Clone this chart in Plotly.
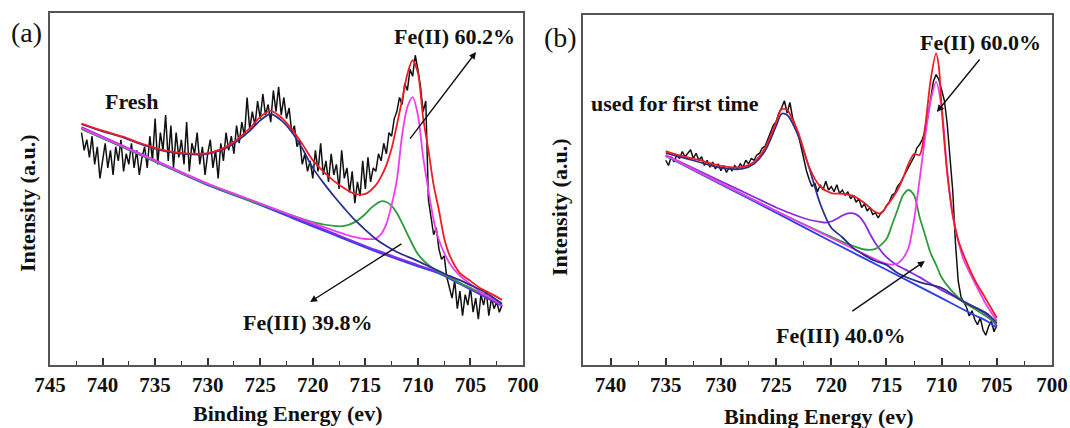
import plotly.graph_objects as go

W, H = 1070, 428

# ---------------- Panel (a): Fresh ----------------
a_raw_start = 742.0
a_raw_step = 0.25
a_raw = [
    66, 61, 64, 59, 65, 57, 62, 53, 58, 63, 56, 61, 54, 62, 58, 64,
    55, 60, 57, 63, 56, 61, 54, 59, 62, 56, 65, 58, 70, 57, 66, 61,
    71, 58, 68, 56, 66, 59, 64, 57, 69, 55, 63, 60, 66, 57, 62, 54,
    60, 64, 56, 61, 53, 63, 58, 66, 61, 65, 60, 68, 63, 69, 65, 76,
    67, 72, 68, 75, 70, 77, 71, 74, 69, 78, 72, 79, 71, 76, 70, 73,
    66, 68, 62, 64, 57, 60, 55, 58, 53, 61, 55, 63, 54, 58, 52, 60,
    54, 57, 50, 61, 53, 56, 49, 55, 46, 52, 48, 58, 50, 59, 52, 56,
    55, 60, 58, 63, 60, 66, 65, 70, 72, 76, 74, 80, 78, 84, 82, 88,
    84, 79, 72, 75, 47, 42, 37, 39, 33, 30, 31, 25, 22, 19, 24, 16,
    21, 14, 20, 17, 22, 15, 19, 13, 20, 17, 21, 14, 19, 16, 18, 15,
    17,
]

a_tot_E = [742, 740, 738, 736, 734, 732, 730, 728, 726, 725, 724, 723, 722, 721,
           720, 719, 718, 717, 716, 715, 714, 713.5, 713, 712.5, 712, 711.5, 711,
           710.5, 710, 709.5, 709, 708.5, 708, 707.5, 707, 706, 705, 704, 703, 702]
a_tot = [68.6, 66.6, 64.8, 62.6, 60.9, 60.1, 60.2, 62.4, 67.2, 70.5, 72.2, 70.3, 67.0, 62.8,
         58.2, 55.0, 52.3, 50.2, 48.6, 48.6, 51.1, 53.5, 56.8, 61.5, 68.2, 75.3, 82.7,
         86.6, 83.0, 70.2, 61.1, 51.1, 44.0, 36.0, 31.3, 26.1, 23.9, 21.7, 20.2, 18.5]

a_sat_E = [742, 740, 738, 736, 734, 732, 730, 728, 726, 725, 724, 723, 722, 721, 720,
           719, 718, 717, 716, 715, 714, 713, 712, 711, 710, 709, 708, 707, 706, 705,
           704, 703, 702]
a_sat = [68.4, 66.4, 64.6, 62.4, 60.7, 59.9, 60.0, 62.0, 66.5, 69.5, 71.3, 69.5, 66.2, 61.5, 56.0,
         51.8, 48.0, 44.5, 41.2, 38.4, 35.8, 33.8, 32.1, 30.8, 29.5, 28.1, 26.7, 25.3, 24.1, 22.7,
         21.3, 19.5, 17.3]

a_fe2_E = [742, 736, 730, 724, 720, 718, 716, 715, 714, 713.5, 713, 712.5, 712, 711.5, 711,
           710.5, 710, 709.5, 709, 708.5, 708, 707, 706, 705, 704, 703, 702]
a_fe2 = [67.3, 59.4, 51.5, 44.8, 40.3, 38.2, 36.3, 35.8, 35.9, 37.2, 40.1, 45.5, 52.6, 65.3, 73.3,
         76.1, 71.0, 59.1, 49.7, 41.2, 35.5, 29.0, 25.3, 23.0, 20.7, 19.0, 17.0]

a_fe3_E = [742, 736, 730, 724, 720, 718, 717, 716, 715, 714.5, 714, 713.5, 713, 712.5, 712,
           711.5, 711, 710, 709, 708, 707, 706, 705, 704, 703, 702]
a_fe3 = [67.1, 59.2, 51.3, 44.6, 40.6, 39.5, 39.5, 40.6, 42.9, 44.5, 45.7, 46.5, 46.3, 45.2, 43.2,
         40.3, 37.2, 31.5, 28.4, 26.4, 25.0, 23.3, 21.9, 20.5, 19.0, 17.6]

a_bg_E = [742, 738, 734, 730, 726, 722, 718, 714, 710, 708, 706, 704, 702]
a_bg = [67.1, 61.8, 56.4, 51.1, 46.6, 41.8, 37.0, 32.3, 28.0, 26.0, 23.0, 19.9, 16.8]
a_bg2 = [67.6, 62.2, 56.8, 51.5, 47.0, 42.2, 37.4, 32.7, 28.4, 26.3, 23.3, 20.1, 16.9]

# ---------------- Panel (b): used for first time ----------------
b_raw_start = 735.0
b_raw_step = 0.25
b_raw = [
    58.5, 57.0, 59.5, 58.0, 60.0, 59.0, 61.0, 59.5, 60.5, 61.5, 59.0, 60.5, 58.5, 59.5, 57.0, 58.5,
    56.5, 58.0, 56.0, 57.5, 55.5, 57.0, 55.0, 56.5, 55.5, 57.0, 56.0, 57.5, 56.5, 58.5, 57.5, 59.0,
    58.5, 60.0, 60.5, 62.0, 62.5, 64.5, 66.0, 68.5, 69.5, 72.0, 73.5, 75.5, 72.0, 75.0, 70.5, 68.0,
    66.0, 62.5, 59.0, 55.5, 53.0, 51.0, 52.0, 49.5, 51.5, 50.0, 52.5, 50.0, 51.0, 49.5, 51.5, 49.0,
    50.0, 48.5, 49.5, 47.5, 48.5, 46.5, 47.5, 45.0, 46.0, 44.0, 45.0, 43.0, 43.5, 42.0, 43.5, 44.0,
    45.5, 46.5, 48.5, 49.0, 51.0, 52.0, 53.5, 55.0, 56.5, 58.0, 59.5, 62.0, 63.0, 64.5, 67.0, 71.0,
    76.5, 81.0, 83.0, 81.5, 78.5, 75.5, 69.0, 60.0, 50.0, 35.0, 24.0, 19.5, 18.0, 16.5, 14.0, 15.5,
    13.0, 11.5, 13.5, 10.0, 8.5, 11.0, 12.5, 9.5, 11.5,
]

b_tot_E = [735, 734, 732, 730, 728, 727, 726, 725, 724.5, 724, 723.5, 723, 722.5, 722, 721,
           720, 719, 718, 717, 716, 715.5, 715, 714.5, 714, 713.5, 713, 712.5, 712, 711.5,
           711, 710.5, 710.25, 710, 709.5, 709, 708.5, 708, 707, 706, 705]
b_tot = [61.1, 60.1, 58.6, 56.9, 56.6, 58.0, 62.0, 69.4, 73.1, 72.9, 70.0, 66.5, 61.5, 56.5, 51.0,
         49.1, 48.9, 48.3, 46.3, 43.7, 43.3, 45.4, 47.5, 50.0, 53.4, 57.5, 60.3, 60.0, 68.0,
         81.4, 89.1, 85.1, 73.5, 55.1, 42.9, 35.7, 31.4, 24.3, 18.9, 13.5]

b_sat_E = [735, 734, 732, 730, 728, 727, 726, 725, 724.5, 724, 723.5, 723, 722, 721, 720,
           719, 718, 717, 716, 715, 714, 712, 710, 708, 706, 705]
b_sat = [60.6, 59.7, 58.0, 56.3, 56.1, 57.5, 61.2, 68.3, 71.8, 71.4, 69.0, 65.5, 56.3, 46.0, 39.2,
         36.5, 33.4, 31.4, 29.7, 28.6, 26.3, 23.7, 22.0, 18.0, 14.9, 12.0]

b_fe2_E = [735, 730, 725, 720, 718, 716, 715, 714.5, 714, 713.5, 713, 712.5, 712, 711.5, 711,
           710.5, 710, 709.5, 709, 708.5, 708, 707, 706, 705]
b_fe2 = [59.9, 51.9, 44.0, 36.3, 33.2, 30.2, 28.9, 28.7, 29.0, 30.5, 33.5, 41.5, 52.9, 65.0, 75.5,
         80.9, 73.5, 55.5, 43.0, 35.5, 30.0, 23.5, 17.5, 12.6]

b_fe3_E = [735, 730, 725, 722, 720, 719, 718, 717, 716, 715, 714.5, 714, 713.5, 713, 712.5,
           712, 711.5, 711, 710.5, 710, 709, 708, 707, 706, 705]
b_fe3 = [59.8, 51.9, 44.0, 39.5, 36.6, 35.2, 34.0, 33.0, 33.2, 36.0, 40.0, 44.3, 48.5, 50.0, 48.5,
         42.3, 37.1, 32.0, 28.6, 25.0, 20.9, 18.0, 16.0, 14.0, 11.6]

b_fe2sat_E = [735, 730, 727, 725, 723, 722, 721, 720.5, 720, 719.5, 719, 718.5, 718, 717.5, 717,
              716.5, 716, 715, 714, 713, 712, 711, 710, 708, 706, 705]
b_fe2sat = [60.0, 52.5, 48.0, 45.0, 42.5, 41.5, 40.9, 40.7, 41.0, 41.8, 42.7, 43.3, 43.3, 42.5, 40.5,
            37.5, 34.8, 30.8, 28.4, 26.8, 25.1, 23.2, 21.4, 18.2, 14.5, 11.2]

b_bg_E = [735, 730, 725, 720, 715, 710, 708, 707, 706, 705]
b_bg = [59.7, 51.6, 43.5, 35.3, 27.2, 19.1, 15.8, 14.2, 12.7, 10.6]

# ---------------- styling ----------------
FONT = "Liberation Serif"
C_RAW = "#111111"
C_TOT = "#ee1c24"
C_SAT = "#2b2f8c"
C_FE2 = "#f03cf0"
C_FE3 = "#2e9b3e"
C_BG = "#2f3cf0"
C_BG2 = "#8a2be2"

a_raw_E = [a_raw_start - a_raw_step * i for i in range(len(a_raw))]
b_raw_E = [b_raw_start - b_raw_step * i for i in range(len(b_raw))]

fig = go.Figure()


def add(x, y, color, xa, ya, width=1.8, smooth=True):
    fig.add_trace(go.Scatter(
        x=x, y=y, mode="lines", xaxis=xa, yaxis=ya, showlegend=False,
        line=dict(color=color, width=width, shape="spline" if smooth else "linear",
                  smoothing=0.8),
        hoverinfo="skip"))


# panel a
add(a_raw_E, a_raw, C_RAW, "x", "y", 1.5, smooth=False)
add(a_bg_E, a_bg, C_BG, "x", "y")
add(a_bg_E, a_bg2, C_BG2, "x", "y")
add(a_fe3_E, a_fe3, C_FE3, "x", "y")
add(a_fe2_E, a_fe2, C_FE2, "x", "y")
add(a_sat_E, a_sat, C_SAT, "x", "y")
add(a_tot_E, a_tot, C_TOT, "x", "y")

# panel b
add(b_raw_E, b_raw, C_RAW, "x2", "y2", 1.5, smooth=False)
add(b_bg_E, b_bg, C_BG, "x2", "y2")
add(b_fe2sat_E, b_fe2sat, C_BG2, "x2", "y2")
add(b_fe3_E, b_fe3, C_FE3, "x2", "y2")
add(b_fe2_E, b_fe2, C_FE2, "x2", "y2")
add(b_sat_E, b_sat, C_SAT, "x2", "y2")
add(b_tot_E, b_tot, C_TOT, "x2", "y2")


def px_x(px):
    return px / W


def px_y(py):
    return 1 - py / H


xcommon = dict(
    showline=True, mirror=True, linecolor="#555555", linewidth=1.8,
    ticks="inside", ticklen=7, tickwidth=1.6, tickcolor="#333333",
    tickmode="linear", dtick=5, tick0=700,
    minor=dict(ticks="inside", ticklen=4, tickwidth=1.4, tickcolor="#333333",
               dtick=2.5, tick0=700),
    showgrid=False, zeroline=False, automargin=False,
    tickfont=dict(family=FONT, size=21, color="#111111", weight="bold"),
)
ycommon = dict(
    showline=True, mirror=True, linecolor="#555555", linewidth=1.8,
    ticks="", showticklabels=False, showgrid=False, zeroline=False,
    automargin=False, range=[0, 100],
)

fig.update_layout(
    template="none",
    width=W, height=H,
    margin=dict(l=0, r=0, t=0, b=0, autoexpand=False),
    paper_bgcolor="white", plot_bgcolor="white",
    xaxis=dict(domain=[px_x(50), px_x(523)], range=[745, 700], anchor="y", **xcommon),
    yaxis=dict(domain=[px_y(365), px_y(13)], anchor="x", **ycommon),
    xaxis2=dict(domain=[px_x(583), px_x(1052)], range=[742.5, 700], anchor="y2", **xcommon),
    yaxis2=dict(domain=[px_y(365), px_y(15)], anchor="x2", **ycommon),
)

texts = [
    ("(a)", 26, 32, 28, False, 0),
    ("Fresh", 131, 102, 22, True, 0),
    ("Fe(II) 60.2%", 454, 36, 22, True, 0),
    ("Fe(III) 39.8%", 308, 322, 22, True, 0),
    ("(b)", 560, 37, 28, False, 0),
    ("used for first time", 675, 103, 22, True, 0),
    ("Fe(II) 60.0%", 980, 43, 22, True, 0),
    ("Fe(III) 40.0%", 841, 335, 22, True, 0),
    ("Binding Energy (ev)", 287, 413, 22, True, 0),
    ("Binding Energy (ev)", 818, 416, 22, True, 0),
    ("Intensity (a.u.)", 27, 203, 22, True, -90),
    ("Intensity (a.u.)", 559, 207, 22, True, -90),
]
for t, px, py, size, bold, ang in texts:
    fig.add_annotation(
        text=f"<b>{t}</b>" if bold else t,
        x=px_x(px), y=px_y(py), xref="paper", yref="paper",
        xanchor="center", yanchor="middle", showarrow=False, textangle=ang,
        font=dict(family=FONT, size=size, color="#111111"))

# arrows: (head_x, head_y, tail_x, tail_y, xref, yref)
arrows = [
    (704.47, 88.9, 710.85, 63.9, "x", "y"),
    (720.26, 17.9, 711.42, 34.7, "x", "y"),
    (710.43, 72.3, 706.45, 87.7, "x2", "y2"),
    (711.52, 29.7, 718.23, 15.1, "x2", "y2"),
]
for hx, hy, tx, ty, xr, yr in arrows:
    fig.add_annotation(
        x=hx, y=hy, ax=tx, ay=ty, xref=xr, yref=yr, axref=xr, ayref=yr,
        text="", showarrow=True, arrowhead=2, arrowsize=1.0, arrowwidth=1.4,
        arrowcolor="#111111", standoff=0, startstandoff=0)

fig.write_html("out.html")
